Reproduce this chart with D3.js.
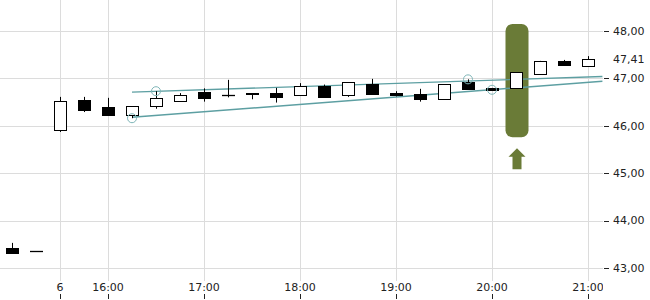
<!DOCTYPE html>
<html>
<head>
<meta charset="utf-8">
<script src="https://cdn.jsdelivr.net/npm/d3@7"></script>
<style>
    body { margin: 0; background: #fff; }
    text { font-family: "DejaVu Sans", sans-serif; font-size: 11px; fill: #222; }
    .grid line { stroke: #dcdcdc; stroke-width: 1; }
    .wick { stroke: #000; stroke-width: 1; }
    .body { stroke: #000; stroke-width: 1; }
    .trend { stroke: #5d9fa2; stroke-width: 1.4; fill: none; }
    .touch { stroke: #7fb6b8; stroke-width: 1; fill: none; }
</style>
</head>
<body>
<div id="chart"></div>
<script>
// 15-minute candles (first two from the previous session)
var times = ["21:45", "22:00", "15:30", "15:45", "16:00", "16:15", "16:30", "16:45", "17:00", "17:15",
    "17:30", "17:45", "18:00", "18:15", "18:30", "18:45", "19:00", "19:15", "19:30", "19:45",
    "20:00", "20:15", "20:30", "20:45", "21:00"];
var opens = [43.43, 43.36, 45.91, 46.54, 46.40, 46.23, 46.42, 46.54, 46.71, 46.65,
    46.69, 46.69, 46.63, 46.84, 46.65, 46.88, 46.69, 46.67, 46.57, 46.92,
    46.80, 46.79, 47.09, 47.37, 47.26];
var highs = [43.53, 43.36, 46.61, 46.61, 46.59, 46.41, 46.73, 46.69, 46.79, 46.97,
    46.69, 46.80, 46.90, 46.87, 46.92, 46.99, 46.73, 46.78, 46.88, 46.98,
    46.80, 47.13, 47.37, 47.39, 47.47];
var lows = [43.30, 43.36, 45.87, 46.29, 46.23, 46.16, 46.36, 46.54, 46.51, 46.60,
    46.56, 46.49, 46.63, 46.61, 46.61, 46.66, 46.62, 46.51, 46.57, 46.78,
    46.76, 46.79, 47.09, 47.28, 47.26];
var closes = [43.33, 43.36, 46.52, 46.32, 46.24, 46.41, 46.58, 46.66, 46.58, 46.64,
    46.66, 46.60, 46.83, 46.61, 46.92, 46.66, 46.64, 46.56, 46.88, 46.78,
    46.76, 47.13, 47.37, 47.28, 47.41];

var priceTicks = [43, 44, 45, 46, 47, 48];
var lastPrice = 47.41;
var timeTicks = [{ i: 2, label: "6" }, { i: 4, label: "16:00" }, { i: 8, label: "17:00" },
    { i: 12, label: "18:00" }, { i: 16, label: "19:00" }, { i: 20, label: "20:00" }, { i: 24, label: "21:00" }];

// trend channel: [start index, start price, end index, end price]
var trendLines = [[5, 46.71, 24.6, 47.04], [5, 46.18, 24.6, 46.94]];
// touch points: [index, price]
var touches = [[5, 46.16], [6, 46.73], [19, 46.98], [20, 46.76]];
// signal candle highlight
var signalIndex = 21;
var signalRange = [45.76, 48.15];

var W = 650, H = 300;
var plotW = 603, plotH = 281;

var data = times.map(function (t, i) {
    return { i: i, time: t, open: opens[i], high: highs[i], low: lows[i], close: closes[i] };
});

var xScale = d3.scaleLinear().domain([0, times.length - 1]).range([12, 588]);
var yScale = d3.scaleLinear().domain([43, 48]).range([268, 31]);
var step = xScale(1) - xScale(0);
var bodyW = step / 2;

function bodyH(d) {
    return Math.round(Math.abs(yScale(d.open) - yScale(d.close)));
}

var svg = d3.select("#chart").append("svg")
    .attr("width", W)
    .attr("height", H);

svg.append("defs").append("clipPath").attr("id", "plotclip")
    .append("rect").attr("x", 0).attr("y", 0).attr("width", plotW).attr("height", H);

// grid
var grid = svg.append("g").attr("class", "grid");
grid.selectAll(".hg").data(priceTicks).enter().append("line")
    .attr("x1", 0).attr("x2", plotW)
    .attr("y1", function (d) { return Math.round(yScale(d)) + 0.5; })
    .attr("y2", function (d) { return Math.round(yScale(d)) + 0.5; });
grid.selectAll(".vg").data(timeTicks).enter().append("line")
    .attr("x1", function (d) { return Math.round(xScale(d.i)) + 0.5; })
    .attr("x2", function (d) { return Math.round(xScale(d.i)) + 0.5; })
    .attr("y1", 0).attr("y2", plotH);

// signal highlight
var sx = xScale(signalIndex);
svg.append("rect")
    .attr("x", sx - 10.5)
    .attr("y", yScale(signalRange[1]))
    .attr("width", 23)
    .attr("height", yScale(signalRange[0]) - yScale(signalRange[1]))
    .attr("rx", 7)
    .attr("fill", "#6a7b37");
var ay = yScale(signalRange[0]) + 11;
svg.append("path")
    .attr("d", "M" + (sx + 1) + "," + ay + " L" + (sx + 9.5) + "," + (ay + 8.5) + " L" + (sx + 5.5) + "," + (ay + 8.5) +
        " L" + (sx + 5.5) + "," + (ay + 21) + " L" + (sx - 3.5) + "," + (ay + 21) + " L" + (sx - 3.5) + "," + (ay + 8.5) +
        " L" + (sx - 7.5) + "," + (ay + 8.5) + " Z")
    .attr("fill", "#6a7b37");

// trend channel
var plot = svg.append("g").attr("clip-path", "url(#plotclip)");
plot.selectAll(".trend").data(trendLines).enter().append("line")
    .attr("class", "trend")
    .attr("x1", function (d) { return xScale(d[0]); })
    .attr("y1", function (d) { return yScale(d[1]); })
    .attr("x2", function (d) { return xScale(d[2]); })
    .attr("y2", function (d) { return yScale(d[3]); });

// candles
var candles = plot.selectAll(".candle").data(data).enter().append("g").attr("class", "candle");
candles.append("line")
    .attr("class", "wick")
    .attr("x1", function (d) { return Math.round(xScale(d.i)) + 0.5; })
    .attr("x2", function (d) { return Math.round(xScale(d.i)) + 0.5; })
    .attr("y1", function (d) { return yScale(d.high); })
    .attr("y2", function (d) { return yScale(d.low); });
candles.filter(function (d) { return bodyH(d) > 0; }).append("rect")
    .attr("class", "body")
    .attr("x", function (d) { return Math.round(xScale(d.i) - bodyW / 2) + 0.5; })
    .attr("y", function (d) { return Math.round(yScale(Math.max(d.open, d.close))) + 0.5; })
    .attr("width", bodyW)
    .attr("height", bodyH)
    .attr("fill", function (d) { return d.close < d.open ? "#000" : "#fff"; });
// flat bodies drawn as a dash
candles.filter(function (d) { return bodyH(d) == 0; }).append("line")
    .attr("class", "wick")
    .attr("x1", function (d) { return Math.round(xScale(d.i) - bodyW / 2); })
    .attr("x2", function (d) { return Math.round(xScale(d.i) + bodyW / 2) + 1; })
    .attr("y1", function (d) { return Math.round(yScale(d.open)) + 0.5; })
    .attr("y2", function (d) { return Math.round(yScale(d.open)) + 0.5; })
    .style("stroke-width", 1.3);

plot.selectAll(".touch").data(touches).enter().append("circle")
    .attr("class", "touch")
    .attr("cx", function (d) { return xScale(d[0]); })
    .attr("cy", function (d) { return yScale(d[1]); })
    .attr("r", 4.5);

// right price axis
var fmt = function (v) { return d3.format(".2f")(v).replace(".", ","); };
var yAxis = svg.append("g");
yAxis.selectAll(".tk").data(priceTicks).enter().append("line")
    .attr("x1", plotW + 1).attr("x2", plotW + 6)
    .attr("y1", function (d) { return Math.round(yScale(d)) + 0.5; })
    .attr("y2", function (d) { return Math.round(yScale(d)) + 0.5; })
    .attr("stroke", "#222");
yAxis.selectAll(".lb").data(priceTicks.concat([lastPrice])).enter().append("text")
    .attr("x", plotW + 10)
    .attr("y", function (d) { return yScale(d); })
    .attr("dy", "0.35em")
    .text(fmt);

// bottom time axis
var xAxis = svg.append("g");
xAxis.selectAll(".tk").data(timeTicks).enter().append("line")
    .attr("x1", function (d) { return Math.round(xScale(d.i)) + 0.5; })
    .attr("x2", function (d) { return Math.round(xScale(d.i)) + 0.5; })
    .attr("y1", 294).attr("y2", 299)
    .attr("stroke", "#222");
xAxis.append("g").attr("clip-path", "url(#plotclip)")
    .selectAll("text").data(timeTicks).enter().append("text")
    .attr("x", function (d) { return xScale(d.i); })
    .attr("y", 291)
    .attr("text-anchor", "middle")
    .text(function (d) { return d.label; });
</script>
</body>
</html>
